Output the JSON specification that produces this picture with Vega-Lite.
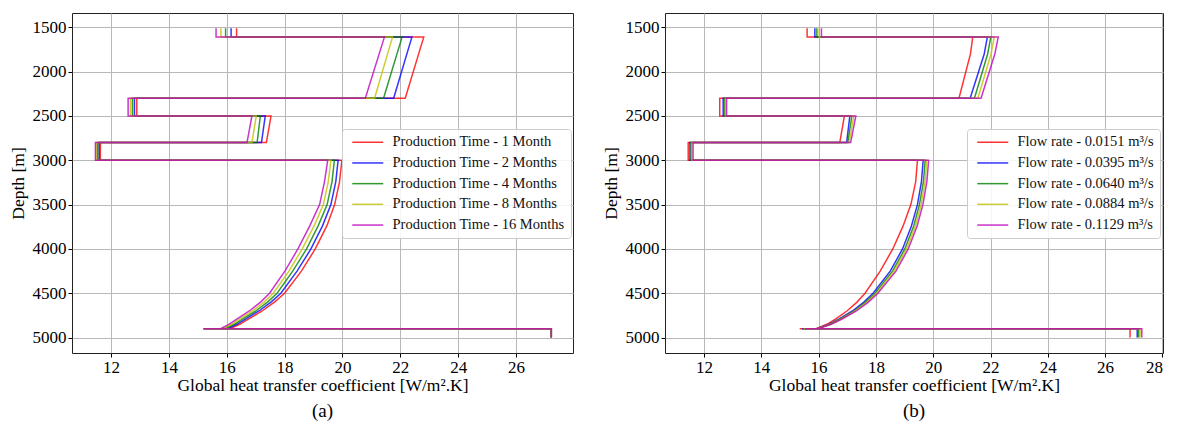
{
  "$schema": "https://vega.github.io/schema/vega-lite/v6.json",
  "background": "white",
  "padding": {"left": 8, "top": 12, "right": 10, "bottom": 5},
  "bounds": "flush",
  "spacing": 92,
  "config": {
    "font": "Liberation Serif",
    "view": {"stroke": "#222222", "strokeWidth": 1},
    "axis": {
      "grid": true, "gridColor": "#b8b8b8", "gridWidth": 1,
      "domain": false, "tickColor": "#000000", "tickSize": 4, "tickWidth": 1,
      "labelFont": "Liberation Serif", "labelFontSize": 17, "labelColor": "#000000", "labelPadding": 2,
      "titleFont": "Liberation Serif", "titleFontSize": 17.5, "titleFontWeight": "normal", "titleColor": "#000000"
    },
    "legend": {
      "orient": "none", "title": null,
      "labelFont": "Liberation Serif", "labelFontSize": 14.5, "labelColor": "#111111", "labelLimit": 0,
      "symbolType": "M-0.6,0H5.6", "symbolSize": 100, "symbolStrokeWidth": 1.5,
      "labelOffset": 30, "rowPadding": 5.7,
      "fillColor": "rgba(255,255,255,0.85)", "strokeColor": "#cccccc", "cornerRadius": 3, "padding": 6
    },
    "title": {"font": "Liberation Serif", "fontSize": 19, "fontWeight": "normal", "color": "#000000"}
  },
  "datasets": {
    "a": [
      {"s":"Production Time - 1 Month","o":0,"x":16.34,"d":1510},{"s":"Production Time - 1 Month","o":1,"x":16.34,"d":1610},{"s":"Production Time - 1 Month","o":2,"x":22.81,"d":1610},{"s":"Production Time - 1 Month","o":3,"x":22.17,"d":2300},{"s":"Production Time - 1 Month","o":4,"x":12.89,"d":2300},{"s":"Production Time - 1 Month","o":5,"x":12.89,"d":2500},{"s":"Production Time - 1 Month","o":6,"x":17.53,"d":2500},{"s":"Production Time - 1 Month","o":7,"x":17.37,"d":2800},{"s":"Production Time - 1 Month","o":8,"x":11.63,"d":2800},{"s":"Production Time - 1 Month","o":9,"x":11.63,"d":3000},{"s":"Production Time - 1 Month","o":10,"x":19.98,"d":3000},{"s":"Production Time - 1 Month","o":11,"x":19.90,"d":3240},{"s":"Production Time - 1 Month","o":12,"x":19.73,"d":3500},{"s":"Production Time - 1 Month","o":13,"x":19.46,"d":3740},{"s":"Production Time - 1 Month","o":14,"x":19.06,"d":4000},{"s":"Production Time - 1 Month","o":15,"x":18.58,"d":4250},{"s":"Production Time - 1 Month","o":16,"x":18.00,"d":4500},{"s":"Production Time - 1 Month","o":17,"x":17.65,"d":4600},{"s":"Production Time - 1 Month","o":18,"x":17.22,"d":4700},{"s":"Production Time - 1 Month","o":19,"x":16.76,"d":4790},{"s":"Production Time - 1 Month","o":20,"x":16.45,"d":4850},{"s":"Production Time - 1 Month","o":21,"x":16.10,"d":4900},{"s":"Production Time - 1 Month","o":22,"x":15.2,"d":4900},{"s":"Production Time - 1 Month","o":23,"x":27.22,"d":4900},{"s":"Production Time - 1 Month","o":24,"x":27.22,"d":5000},
      {"s":"Production Time - 2 Months","o":0,"x":16.15,"d":1510},{"s":"Production Time - 2 Months","o":1,"x":16.15,"d":1610},{"s":"Production Time - 2 Months","o":2,"x":22.40,"d":1610},{"s":"Production Time - 2 Months","o":3,"x":21.77,"d":2300},{"s":"Production Time - 2 Months","o":4,"x":12.81,"d":2300},{"s":"Production Time - 2 Months","o":5,"x":12.81,"d":2500},{"s":"Production Time - 2 Months","o":6,"x":17.33,"d":2500},{"s":"Production Time - 2 Months","o":7,"x":17.20,"d":2800},{"s":"Production Time - 2 Months","o":8,"x":11.59,"d":2800},{"s":"Production Time - 2 Months","o":9,"x":11.59,"d":3000},{"s":"Production Time - 2 Months","o":10,"x":19.85,"d":3000},{"s":"Production Time - 2 Months","o":11,"x":19.77,"d":3240},{"s":"Production Time - 2 Months","o":12,"x":19.60,"d":3500},{"s":"Production Time - 2 Months","o":13,"x":19.31,"d":3740},{"s":"Production Time - 2 Months","o":14,"x":18.91,"d":4000},{"s":"Production Time - 2 Months","o":15,"x":18.43,"d":4250},{"s":"Production Time - 2 Months","o":16,"x":17.87,"d":4500},{"s":"Production Time - 2 Months","o":17,"x":17.53,"d":4600},{"s":"Production Time - 2 Months","o":18,"x":17.11,"d":4700},{"s":"Production Time - 2 Months","o":19,"x":16.66,"d":4790},{"s":"Production Time - 2 Months","o":20,"x":16.35,"d":4850},{"s":"Production Time - 2 Months","o":21,"x":16.02,"d":4900},{"s":"Production Time - 2 Months","o":22,"x":15.2,"d":4900},{"s":"Production Time - 2 Months","o":23,"x":27.22,"d":4900},{"s":"Production Time - 2 Months","o":24,"x":27.22,"d":5000},
      {"s":"Production Time - 4 Months","o":0,"x":15.96,"d":1510},{"s":"Production Time - 4 Months","o":1,"x":15.96,"d":1610},{"s":"Production Time - 4 Months","o":2,"x":22.06,"d":1610},{"s":"Production Time - 4 Months","o":3,"x":21.42,"d":2300},{"s":"Production Time - 4 Months","o":4,"x":12.74,"d":2300},{"s":"Production Time - 4 Months","o":5,"x":12.74,"d":2500},{"s":"Production Time - 4 Months","o":6,"x":17.16,"d":2500},{"s":"Production Time - 4 Months","o":7,"x":17.05,"d":2800},{"s":"Production Time - 4 Months","o":8,"x":11.54,"d":2800},{"s":"Production Time - 4 Months","o":9,"x":11.54,"d":3000},{"s":"Production Time - 4 Months","o":10,"x":19.72,"d":3000},{"s":"Production Time - 4 Months","o":11,"x":19.64,"d":3240},{"s":"Production Time - 4 Months","o":12,"x":19.47,"d":3500},{"s":"Production Time - 4 Months","o":13,"x":19.16,"d":3740},{"s":"Production Time - 4 Months","o":14,"x":18.76,"d":4000},{"s":"Production Time - 4 Months","o":15,"x":18.28,"d":4250},{"s":"Production Time - 4 Months","o":16,"x":17.74,"d":4500},{"s":"Production Time - 4 Months","o":17,"x":17.41,"d":4600},{"s":"Production Time - 4 Months","o":18,"x":17.00,"d":4700},{"s":"Production Time - 4 Months","o":19,"x":16.56,"d":4790},{"s":"Production Time - 4 Months","o":20,"x":16.26,"d":4850},{"s":"Production Time - 4 Months","o":21,"x":15.94,"d":4900},{"s":"Production Time - 4 Months","o":22,"x":15.2,"d":4900},{"s":"Production Time - 4 Months","o":23,"x":27.22,"d":4900},{"s":"Production Time - 4 Months","o":24,"x":27.22,"d":5000},
      {"s":"Production Time - 8 Months","o":0,"x":15.80,"d":1510},{"s":"Production Time - 8 Months","o":1,"x":15.80,"d":1610},{"s":"Production Time - 8 Months","o":2,"x":21.73,"d":1610},{"s":"Production Time - 8 Months","o":3,"x":21.11,"d":2300},{"s":"Production Time - 8 Months","o":4,"x":12.67,"d":2300},{"s":"Production Time - 8 Months","o":5,"x":12.67,"d":2500},{"s":"Production Time - 8 Months","o":6,"x":17.02,"d":2500},{"s":"Production Time - 8 Months","o":7,"x":16.87,"d":2800},{"s":"Production Time - 8 Months","o":8,"x":11.49,"d":2800},{"s":"Production Time - 8 Months","o":9,"x":11.49,"d":3000},{"s":"Production Time - 8 Months","o":10,"x":19.60,"d":3000},{"s":"Production Time - 8 Months","o":11,"x":19.51,"d":3240},{"s":"Production Time - 8 Months","o":12,"x":19.34,"d":3500},{"s":"Production Time - 8 Months","o":13,"x":19.02,"d":3740},{"s":"Production Time - 8 Months","o":14,"x":18.61,"d":4000},{"s":"Production Time - 8 Months","o":15,"x":18.15,"d":4250},{"s":"Production Time - 8 Months","o":16,"x":17.61,"d":4500},{"s":"Production Time - 8 Months","o":17,"x":17.29,"d":4600},{"s":"Production Time - 8 Months","o":18,"x":16.89,"d":4700},{"s":"Production Time - 8 Months","o":19,"x":16.46,"d":4790},{"s":"Production Time - 8 Months","o":20,"x":16.16,"d":4850},{"s":"Production Time - 8 Months","o":21,"x":15.86,"d":4900},{"s":"Production Time - 8 Months","o":22,"x":15.2,"d":4900},{"s":"Production Time - 8 Months","o":23,"x":27.22,"d":4900},{"s":"Production Time - 8 Months","o":24,"x":27.22,"d":5000},
      {"s":"Production Time - 16 Months","o":0,"x":15.63,"d":1510},{"s":"Production Time - 16 Months","o":1,"x":15.63,"d":1610},{"s":"Production Time - 16 Months","o":2,"x":21.45,"d":1610},{"s":"Production Time - 16 Months","o":3,"x":20.79,"d":2300},{"s":"Production Time - 16 Months","o":4,"x":12.59,"d":2300},{"s":"Production Time - 16 Months","o":5,"x":12.59,"d":2500},{"s":"Production Time - 16 Months","o":6,"x":16.87,"d":2500},{"s":"Production Time - 16 Months","o":7,"x":16.70,"d":2800},{"s":"Production Time - 16 Months","o":8,"x":11.46,"d":2800},{"s":"Production Time - 16 Months","o":9,"x":11.46,"d":3000},{"s":"Production Time - 16 Months","o":10,"x":19.49,"d":3000},{"s":"Production Time - 16 Months","o":11,"x":19.38,"d":3240},{"s":"Production Time - 16 Months","o":12,"x":19.21,"d":3500},{"s":"Production Time - 16 Months","o":13,"x":18.87,"d":3740},{"s":"Production Time - 16 Months","o":14,"x":18.46,"d":4000},{"s":"Production Time - 16 Months","o":15,"x":18.01,"d":4250},{"s":"Production Time - 16 Months","o":16,"x":17.48,"d":4500},{"s":"Production Time - 16 Months","o":17,"x":17.17,"d":4600},{"s":"Production Time - 16 Months","o":18,"x":16.78,"d":4700},{"s":"Production Time - 16 Months","o":19,"x":16.36,"d":4790},{"s":"Production Time - 16 Months","o":20,"x":16.07,"d":4850},{"s":"Production Time - 16 Months","o":21,"x":15.79,"d":4900},{"s":"Production Time - 16 Months","o":22,"x":15.2,"d":4900},{"s":"Production Time - 16 Months","o":23,"x":27.22,"d":4900},{"s":"Production Time - 16 Months","o":24,"x":27.22,"d":5000}
    ],
    "b": [
      {"s":"Flow rate - 0.0151 m³/s","o":0,"x":15.60,"d":1510},{"s":"Flow rate - 0.0151 m³/s","o":1,"x":15.60,"d":1610},{"s":"Flow rate - 0.0151 m³/s","o":2,"x":21.38,"d":1610},{"s":"Flow rate - 0.0151 m³/s","o":3,"x":21.30,"d":1800},{"s":"Flow rate - 0.0151 m³/s","o":4,"x":20.90,"d":2300},{"s":"Flow rate - 0.0151 m³/s","o":5,"x":12.55,"d":2300},{"s":"Flow rate - 0.0151 m³/s","o":6,"x":12.55,"d":2500},{"s":"Flow rate - 0.0151 m³/s","o":7,"x":16.90,"d":2500},{"s":"Flow rate - 0.0151 m³/s","o":8,"x":16.74,"d":2800},{"s":"Flow rate - 0.0151 m³/s","o":9,"x":11.45,"d":2800},{"s":"Flow rate - 0.0151 m³/s","o":10,"x":11.45,"d":3000},{"s":"Flow rate - 0.0151 m³/s","o":11,"x":19.45,"d":3000},{"s":"Flow rate - 0.0151 m³/s","o":12,"x":19.39,"d":3240},{"s":"Flow rate - 0.0151 m³/s","o":13,"x":19.22,"d":3500},{"s":"Flow rate - 0.0151 m³/s","o":14,"x":18.95,"d":3740},{"s":"Flow rate - 0.0151 m³/s","o":15,"x":18.59,"d":4000},{"s":"Flow rate - 0.0151 m³/s","o":16,"x":18.15,"d":4250},{"s":"Flow rate - 0.0151 m³/s","o":17,"x":17.62,"d":4500},{"s":"Flow rate - 0.0151 m³/s","o":18,"x":17.34,"d":4600},{"s":"Flow rate - 0.0151 m³/s","o":19,"x":16.99,"d":4700},{"s":"Flow rate - 0.0151 m³/s","o":20,"x":16.60,"d":4790},{"s":"Flow rate - 0.0151 m³/s","o":21,"x":16.29,"d":4850},{"s":"Flow rate - 0.0151 m³/s","o":22,"x":15.91,"d":4900},{"s":"Flow rate - 0.0151 m³/s","o":23,"x":15.34,"d":4900},{"s":"Flow rate - 0.0151 m³/s","o":24,"x":26.87,"d":4900},{"s":"Flow rate - 0.0151 m³/s","o":25,"x":26.87,"d":5000},
      {"s":"Flow rate - 0.0395 m³/s","o":0,"x":15.87,"d":1510},{"s":"Flow rate - 0.0395 m³/s","o":1,"x":15.87,"d":1610},{"s":"Flow rate - 0.0395 m³/s","o":2,"x":21.89,"d":1610},{"s":"Flow rate - 0.0395 m³/s","o":3,"x":21.78,"d":1800},{"s":"Flow rate - 0.0395 m³/s","o":4,"x":21.29,"d":2300},{"s":"Flow rate - 0.0395 m³/s","o":5,"x":12.67,"d":2300},{"s":"Flow rate - 0.0395 m³/s","o":6,"x":12.67,"d":2500},{"s":"Flow rate - 0.0395 m³/s","o":7,"x":17.09,"d":2500},{"s":"Flow rate - 0.0395 m³/s","o":8,"x":16.98,"d":2800},{"s":"Flow rate - 0.0395 m³/s","o":9,"x":11.51,"d":2800},{"s":"Flow rate - 0.0395 m³/s","o":10,"x":11.51,"d":3000},{"s":"Flow rate - 0.0395 m³/s","o":11,"x":19.65,"d":3000},{"s":"Flow rate - 0.0395 m³/s","o":12,"x":19.59,"d":3240},{"s":"Flow rate - 0.0395 m³/s","o":13,"x":19.45,"d":3500},{"s":"Flow rate - 0.0395 m³/s","o":14,"x":19.24,"d":3740},{"s":"Flow rate - 0.0395 m³/s","o":15,"x":18.93,"d":4000},{"s":"Flow rate - 0.0395 m³/s","o":16,"x":18.50,"d":4250},{"s":"Flow rate - 0.0395 m³/s","o":17,"x":17.90,"d":4500},{"s":"Flow rate - 0.0395 m³/s","o":18,"x":17.58,"d":4600},{"s":"Flow rate - 0.0395 m³/s","o":19,"x":17.18,"d":4700},{"s":"Flow rate - 0.0395 m³/s","o":20,"x":16.72,"d":4790},{"s":"Flow rate - 0.0395 m³/s","o":21,"x":16.37,"d":4850},{"s":"Flow rate - 0.0395 m³/s","o":22,"x":15.94,"d":4900},{"s":"Flow rate - 0.0395 m³/s","o":23,"x":15.43,"d":4900},{"s":"Flow rate - 0.0395 m³/s","o":24,"x":27.12,"d":4900},{"s":"Flow rate - 0.0395 m³/s","o":25,"x":27.12,"d":5000},
      {"s":"Flow rate - 0.0640 m³/s","o":0,"x":15.94,"d":1510},{"s":"Flow rate - 0.0640 m³/s","o":1,"x":15.94,"d":1610},{"s":"Flow rate - 0.0640 m³/s","o":2,"x":22.01,"d":1610},{"s":"Flow rate - 0.0640 m³/s","o":3,"x":21.90,"d":1800},{"s":"Flow rate - 0.0640 m³/s","o":4,"x":21.44,"d":2300},{"s":"Flow rate - 0.0640 m³/s","o":5,"x":12.71,"d":2300},{"s":"Flow rate - 0.0640 m³/s","o":6,"x":12.71,"d":2500},{"s":"Flow rate - 0.0640 m³/s","o":7,"x":17.16,"d":2500},{"s":"Flow rate - 0.0640 m³/s","o":8,"x":17.02,"d":2800},{"s":"Flow rate - 0.0640 m³/s","o":9,"x":11.55,"d":2800},{"s":"Flow rate - 0.0640 m³/s","o":10,"x":11.55,"d":3000},{"s":"Flow rate - 0.0640 m³/s","o":11,"x":19.72,"d":3000},{"s":"Flow rate - 0.0640 m³/s","o":12,"x":19.66,"d":3240},{"s":"Flow rate - 0.0640 m³/s","o":13,"x":19.52,"d":3500},{"s":"Flow rate - 0.0640 m³/s","o":14,"x":19.32,"d":3740},{"s":"Flow rate - 0.0640 m³/s","o":15,"x":19.01,"d":4000},{"s":"Flow rate - 0.0640 m³/s","o":16,"x":18.58,"d":4250},{"s":"Flow rate - 0.0640 m³/s","o":17,"x":17.97,"d":4500},{"s":"Flow rate - 0.0640 m³/s","o":18,"x":17.64,"d":4600},{"s":"Flow rate - 0.0640 m³/s","o":19,"x":17.24,"d":4700},{"s":"Flow rate - 0.0640 m³/s","o":20,"x":16.76,"d":4790},{"s":"Flow rate - 0.0640 m³/s","o":21,"x":16.40,"d":4850},{"s":"Flow rate - 0.0640 m³/s","o":22,"x":15.95,"d":4900},{"s":"Flow rate - 0.0640 m³/s","o":23,"x":15.45,"d":4900},{"s":"Flow rate - 0.0640 m³/s","o":24,"x":27.17,"d":4900},{"s":"Flow rate - 0.0640 m³/s","o":25,"x":27.17,"d":5000},
      {"s":"Flow rate - 0.0884 m³/s","o":0,"x":16.02,"d":1510},{"s":"Flow rate - 0.0884 m³/s","o":1,"x":16.02,"d":1610},{"s":"Flow rate - 0.0884 m³/s","o":2,"x":22.13,"d":1610},{"s":"Flow rate - 0.0884 m³/s","o":3,"x":22.02,"d":1800},{"s":"Flow rate - 0.0884 m³/s","o":4,"x":21.56,"d":2300},{"s":"Flow rate - 0.0884 m³/s","o":5,"x":12.75,"d":2300},{"s":"Flow rate - 0.0884 m³/s","o":6,"x":12.75,"d":2500},{"s":"Flow rate - 0.0884 m³/s","o":7,"x":17.23,"d":2500},{"s":"Flow rate - 0.0884 m³/s","o":8,"x":17.07,"d":2800},{"s":"Flow rate - 0.0884 m³/s","o":9,"x":11.58,"d":2800},{"s":"Flow rate - 0.0884 m³/s","o":10,"x":11.58,"d":3000},{"s":"Flow rate - 0.0884 m³/s","o":11,"x":19.77,"d":3000},{"s":"Flow rate - 0.0884 m³/s","o":12,"x":19.72,"d":3240},{"s":"Flow rate - 0.0884 m³/s","o":13,"x":19.58,"d":3500},{"s":"Flow rate - 0.0884 m³/s","o":14,"x":19.38,"d":3740},{"s":"Flow rate - 0.0884 m³/s","o":15,"x":19.07,"d":4000},{"s":"Flow rate - 0.0884 m³/s","o":16,"x":18.64,"d":4250},{"s":"Flow rate - 0.0884 m³/s","o":17,"x":18.02,"d":4500},{"s":"Flow rate - 0.0884 m³/s","o":18,"x":17.69,"d":4600},{"s":"Flow rate - 0.0884 m³/s","o":19,"x":17.28,"d":4700},{"s":"Flow rate - 0.0884 m³/s","o":20,"x":16.79,"d":4790},{"s":"Flow rate - 0.0884 m³/s","o":21,"x":16.42,"d":4850},{"s":"Flow rate - 0.0884 m³/s","o":22,"x":15.96,"d":4900},{"s":"Flow rate - 0.0884 m³/s","o":23,"x":15.48,"d":4900},{"s":"Flow rate - 0.0884 m³/s","o":24,"x":27.22,"d":4900},{"s":"Flow rate - 0.0884 m³/s","o":25,"x":27.22,"d":5000},
      {"s":"Flow rate - 0.1129 m³/s","o":0,"x":16.10,"d":1510},{"s":"Flow rate - 0.1129 m³/s","o":1,"x":16.10,"d":1610},{"s":"Flow rate - 0.1129 m³/s","o":2,"x":22.27,"d":1610},{"s":"Flow rate - 0.1129 m³/s","o":3,"x":22.15,"d":1800},{"s":"Flow rate - 0.1129 m³/s","o":4,"x":21.67,"d":2300},{"s":"Flow rate - 0.1129 m³/s","o":5,"x":12.79,"d":2300},{"s":"Flow rate - 0.1129 m³/s","o":6,"x":12.79,"d":2500},{"s":"Flow rate - 0.1129 m³/s","o":7,"x":17.30,"d":2500},{"s":"Flow rate - 0.1129 m³/s","o":8,"x":17.12,"d":2800},{"s":"Flow rate - 0.1129 m³/s","o":9,"x":11.62,"d":2800},{"s":"Flow rate - 0.1129 m³/s","o":10,"x":11.62,"d":3000},{"s":"Flow rate - 0.1129 m³/s","o":11,"x":19.84,"d":3000},{"s":"Flow rate - 0.1129 m³/s","o":12,"x":19.78,"d":3240},{"s":"Flow rate - 0.1129 m³/s","o":13,"x":19.64,"d":3500},{"s":"Flow rate - 0.1129 m³/s","o":14,"x":19.44,"d":3740},{"s":"Flow rate - 0.1129 m³/s","o":15,"x":19.13,"d":4000},{"s":"Flow rate - 0.1129 m³/s","o":16,"x":18.70,"d":4250},{"s":"Flow rate - 0.1129 m³/s","o":17,"x":18.07,"d":4500},{"s":"Flow rate - 0.1129 m³/s","o":18,"x":17.74,"d":4600},{"s":"Flow rate - 0.1129 m³/s","o":19,"x":17.32,"d":4700},{"s":"Flow rate - 0.1129 m³/s","o":20,"x":16.82,"d":4790},{"s":"Flow rate - 0.1129 m³/s","o":21,"x":16.44,"d":4850},{"s":"Flow rate - 0.1129 m³/s","o":22,"x":15.97,"d":4900},{"s":"Flow rate - 0.1129 m³/s","o":23,"x":15.52,"d":4900},{"s":"Flow rate - 0.1129 m³/s","o":24,"x":27.28,"d":4900},{"s":"Flow rate - 0.1129 m³/s","o":25,"x":27.28,"d":5000}
    ]
  },
  "hconcat": [
    {
      "width": 501, "height": 340,
      "data": {"name": "a"},
      "title": {"text": "(a)", "orient": "bottom", "offset": 8},
      "mark": {"type": "line", "strokeWidth": 1.5, "opacity": 0.8},
      "encoding": {
        "x": {"field": "x", "type": "quantitative",
              "scale": {"domain": [10.65, 27.97], "nice": false, "zero": false},
              "axis": {"values": [12, 14, 16, 18, 20, 22, 24, 26], "title": "Global heat transfer coefficient [W/m².K]", "titlePadding": 1}},
        "y": {"field": "d", "type": "quantitative",
              "scale": {"domain": [1338, 5174], "nice": false, "zero": false, "reverse": true},
              "axis": {"values": [1500, 2000, 2500, 3000, 3500, 4000, 4500, 5000], "format": "d", "title": "Depth [m]", "titlePadding": 5}},
        "order": {"field": "o", "type": "quantitative"},
        "color": {"field": "s", "type": "nominal",
                  "scale": {"domain": ["Production Time - 1 Month", "Production Time - 2 Months", "Production Time - 4 Months", "Production Time - 8 Months", "Production Time - 16 Months"],
                            "range": ["#ff0000", "#0000ff", "#008000", "#bfbf00", "#bf00bf"]},
                  "legend": {"legendX": 270, "legendY": 116}}
      }
    },
    {
      "width": 498, "height": 340,
      "data": {"name": "b"},
      "title": {"text": "(b)", "orient": "bottom", "offset": 8},
      "mark": {"type": "line", "strokeWidth": 1.5, "opacity": 0.8},
      "encoding": {
        "x": {"field": "x", "type": "quantitative",
              "scale": {"domain": [10.64, 28.02], "nice": false, "zero": false},
              "axis": {"values": [12, 14, 16, 18, 20, 22, 24, 26, 28], "title": "Global heat transfer coefficient [W/m².K]", "titlePadding": 1}},
        "y": {"field": "d", "type": "quantitative",
              "scale": {"domain": [1338, 5174], "nice": false, "zero": false, "reverse": true},
              "axis": {"values": [1500, 2000, 2500, 3000, 3500, 4000, 4500, 5000], "format": "d", "title": "Depth [m]", "titlePadding": 5}},
        "order": {"field": "o", "type": "quantitative"},
        "color": {"field": "s", "type": "nominal",
                  "scale": {"domain": ["Flow rate - 0.0151 m³/s", "Flow rate - 0.0395 m³/s", "Flow rate - 0.0640 m³/s", "Flow rate - 0.0884 m³/s", "Flow rate - 0.1129 m³/s"],
                            "range": ["#ff0000", "#0000ff", "#008000", "#bfbf00", "#bf00bf"]},
                  "legend": {"legendX": 302, "legendY": 116}}
      }
    }
  ],
  "resolve": {"scale": {"x": "independent", "y": "independent", "color": "independent"}, "legend": {"color": "independent"}}
}
